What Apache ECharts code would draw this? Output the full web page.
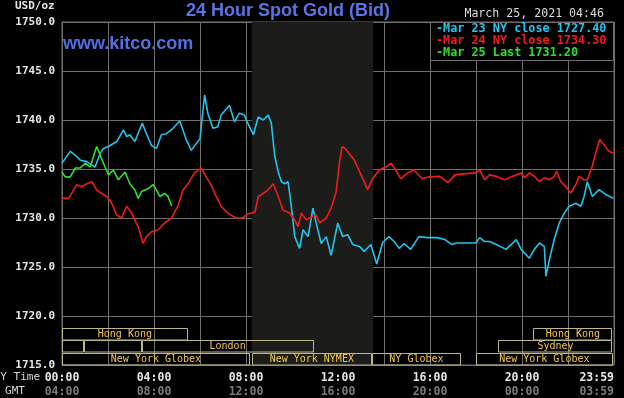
<!DOCTYPE html>
<html>
<head>
<meta charset="utf-8">
<script src="https://cdn.jsdelivr.net/npm/echarts/dist/echarts.min.js"></script>
<style>
  html, body { margin: 0; padding: 0; background: #000; }
  #main { width: 624px; height: 398px; }
</style>
</head>
<body>
<div id="main"></div>
<script>
// hours after NY midnight, bid price
var mar23Hours = [0, 0.36, 0.58, 0.8, 1.08, 1.3, 1.44, 1.66, 1.8, 2.02, 2.38, 2.67, 2.81, 2.95, 3.17, 3.49, 3.67, 3.89, 4.11, 4.32, 4.54, 4.83, 5.12, 5.4, 5.62, 5.84, 6.0, 6.2, 6.34, 6.56, 6.77, 6.92, 7.28, 7.5, 7.71, 7.93, 8.07, 8.32, 8.53, 8.75, 8.97, 9.1, 9.25, 9.4, 9.54, 9.69, 9.83, 9.97, 10.12, 10.33, 10.48, 10.7, 10.91, 11.05, 11.27, 11.49, 11.7, 11.99, 12.2, 12.42, 12.64, 12.93, 13.14, 13.43, 13.68, 13.94, 14.22, 14.44, 14.66, 14.87, 15.16, 15.52, 15.88, 16.29, 16.65, 16.94, 17.15, 17.99, 18.16, 18.38, 18.59, 18.88, 19.31, 19.75, 19.96, 20.32, 20.54, 20.76, 20.97, 21.04, 21.19, 21.4, 21.62, 21.84, 22.05, 22.34, 22.56, 22.7, 22.84, 23.06, 23.35, 23.64, 23.98];
var mar23Values = [1735.6, 1736.8, 1736.4, 1735.9, 1735.75, 1735.4, 1735.2, 1736.6, 1737.1, 1737.3, 1737.8, 1739.0, 1738.3, 1738.5, 1737.8, 1739.7, 1738.6, 1737.4, 1737.1, 1738.5, 1738.6, 1739.15, 1739.9, 1738.0, 1736.9, 1737.6, 1738.1, 1742.55, 1740.7, 1739.15, 1739.3, 1740.5, 1741.5, 1739.8, 1740.7, 1740.5, 1739.7, 1738.5, 1740.3, 1740.0, 1740.5, 1739.7, 1736.3, 1734.7, 1733.7, 1733.5, 1733.7, 1731.2, 1728.1, 1726.9, 1728.8, 1728.1, 1731.0, 1729.5, 1727.4, 1728.1, 1726.2, 1729.5, 1728.1, 1728.3, 1727.3, 1727.1, 1726.6, 1727.3, 1725.3, 1727.5, 1728.1, 1727.6, 1726.9, 1727.4, 1726.8, 1728.1, 1728.0, 1728.0, 1727.8, 1727.3, 1727.45, 1727.45, 1728.0, 1727.6, 1727.6, 1727.3, 1726.8, 1727.8, 1726.8, 1725.9, 1726.8, 1727.45, 1727.1, 1724.05, 1725.75, 1727.8, 1729.5, 1730.5, 1731.2, 1731.5, 1731.2, 1732.2, 1733.7, 1732.2, 1732.9, 1732.4, 1732.0];

var mar24Hours = [0, 0.29, 0.5, 0.65, 0.86, 1.08, 1.3, 1.51, 1.73, 1.95, 2.16, 2.38, 2.59, 2.81, 3.03, 3.31, 3.53, 3.67, 3.89, 4.18, 4.47, 4.76, 5.04, 5.26, 5.48, 5.76, 6.05, 6.27, 6.48, 6.7, 6.92, 7.2, 7.56, 7.85, 8.07, 8.39, 8.53, 8.75, 8.97, 9.18, 9.4, 9.61, 9.9, 10.12, 10.26, 10.41, 10.62, 10.84, 11.05, 11.2, 11.49, 11.7, 11.92, 12.06, 12.18, 12.35, 12.71, 13.0, 13.29, 13.5, 13.79, 14.08, 14.3, 14.51, 14.73, 15.02, 15.3, 15.67, 15.95, 16.43, 16.79, 17.08, 17.44, 17.99, 18.16, 18.38, 18.59, 18.88, 19.24, 19.6, 19.96, 20.11, 20.32, 20.54, 20.76, 20.97, 21.19, 21.4, 21.5, 21.69, 21.9, 22.12, 22.34, 22.48, 22.7, 22.84, 23.06, 23.2, 23.38, 23.56, 23.78, 23.98];
var mar24Values = [1732.0, 1732.0, 1732.85, 1733.4, 1733.2, 1733.5, 1733.7, 1732.85, 1732.5, 1732.2, 1731.5, 1730.3, 1730.0, 1731.2, 1730.5, 1729.1, 1727.4, 1728.1, 1728.6, 1728.8, 1729.5, 1730.0, 1731.2, 1732.85, 1733.5, 1734.6, 1735.1, 1734.2, 1733.4, 1732.2, 1731.2, 1730.5, 1730.0, 1730.0, 1730.4, 1730.6, 1732.2, 1732.5, 1732.9, 1733.5, 1732.2, 1730.8, 1730.5, 1729.8, 1729.1, 1730.5, 1729.8, 1730.1, 1730.3, 1729.5, 1730.0, 1731.0, 1732.7, 1735.6, 1737.3, 1737.0, 1735.9, 1734.4, 1732.9, 1734.0, 1734.9, 1735.2, 1735.6, 1734.9, 1734.0, 1734.6, 1734.9, 1734.0, 1734.2, 1734.25, 1733.6, 1734.4, 1734.5, 1734.6, 1734.9, 1733.9, 1734.4, 1734.25, 1733.9, 1734.25, 1734.6, 1734.1, 1734.6, 1734.25, 1733.7, 1734.1, 1733.9, 1734.25, 1734.8, 1733.7, 1733.2, 1732.55, 1733.4, 1734.25, 1733.9, 1733.9, 1735.3, 1736.6, 1738.0, 1737.5, 1736.8, 1736.6];

var mar25Hours = [0, 0.14, 0.36, 0.58, 0.79, 1.01, 1.23, 1.37, 1.51, 1.66, 1.87, 2.02, 2.23, 2.45, 2.74, 2.95, 3.17, 3.31, 3.46, 3.75, 3.96, 4.11, 4.25, 4.47, 4.61, 4.77];
var mar25Values = [1734.7, 1734.2, 1734.2, 1735.1, 1735.1, 1735.6, 1735.2, 1736.3, 1737.3, 1736.4, 1735.2, 1734.4, 1734.9, 1733.9, 1734.7, 1733.5, 1732.85, 1732.0, 1732.7, 1733.0, 1733.4, 1732.85, 1732.2, 1732.5, 1732.2, 1731.2];

var legendLabels = ['-Mar 23 NY close 1727.40', '-Mar 24 NY close 1734.30', '-Mar 25 Last 1731.20'];
var lineColors = ['#22c4ec', '#f01c1c', '#2ee02e'];

var labelHours = [0, 4, 8, 12, 16, 20, 24];
var nyLabels = ['00:00', '04:00', '08:00', '12:00', '16:00', '20:00', '23:59'];
var gmtLabels = ['04:00', '08:00', '12:00', '16:00', '20:00', '00:00', '03:59'];

// trading sessions: start hour, end hour, row (0 = bottom)
var sessionNames = ['Hong Kong', '', '', 'London', 'New York Globex', 'New York NYMEX', 'NY Globex', 'New York Globex', 'Sydney', 'Hong Kong'];
var sessionStart = [0, 0, 0.94, 3.47, 0, 8.25, 13.47, 18.0, 18.97, 20.49];
var sessionEnd = [5.47, 0.94, 3.47, 10.93, 8.17, 13.47, 17.35, 23.94, 23.94, 23.94];
var sessionRow = [2, 1, 1, 1, 0, 0, 0, 0, 1, 2];

var nymexOpen = 8.25;
var nymexClose = 13.53;

function pairs(xs, ys) {
  return xs.map(function (x, i) { return [x, ys[i]]; });
}

var mono = '"DejaVu Sans Mono", monospace';
var chart = echarts.init(document.getElementById('main'), null, { renderer: 'canvas' });

function renderSession(params, api) {
  var x0 = api.coord([api.value(0), 1715])[0];
  var x1 = api.coord([api.value(1), 1715])[0];
  var base = params.coordSys.y + params.coordSys.height;
  var h = 12.5;
  var top = base - (api.value(2) + 1) * h;
  return {
    type: 'group',
    children: [
      {
        type: 'rect',
        shape: { x: Math.round(x0) + 0.5, y: Math.round(top) + 0.5, width: Math.round(x1 - x0) - 1, height: h - 1 },
        style: { fill: null, stroke: '#bdb68a', lineWidth: 1 }
      },
      {
        type: 'text',
        style: {
          text: sessionNames[params.dataIndex],
          x: (x0 + x1) / 2, y: top + h / 2 + 0.5,
          align: 'center', verticalAlign: 'middle',
          fill: '#f2c84a', font: '10px ' + mono
        }
      }
    ]
  };
}

var option = {
  backgroundColor: '#000',
  animation: false,
  grid: { left: 62, top: 22, width: 552, height: 343, show: true, borderColor: '#6e6e6e', borderWidth: 1 },
  xAxis: {
    type: 'value', min: 0, max: 24, interval: 2,
    axisLine: { show: false }, axisTick: { show: false },
    splitLine: { show: true, lineStyle: { color: '#6e6e6e', width: 1 } },
    axisLabel: {
      margin: 6,
      alignMaxLabel: 'right',
      formatter: function (v) {
        var i = labelHours.indexOf(v);
        if (i < 0) return '';
        return '{ny|' + nyLabels[i] + '}\n{gmt|' + gmtLabels[i] + '}';
      },
      rich: {
        ny: { color: '#e6e6e6', fontFamily: mono, fontWeight: 'bold', fontSize: 11.5, lineHeight: 14 },
        gmt: { color: '#7c7c7c', fontFamily: mono, fontWeight: 'bold', fontSize: 11.5, lineHeight: 14 }
      }
    }
  },
  yAxis: {
    type: 'value', min: 1715, max: 1750, interval: 5,
    axisLine: { show: false }, axisTick: { show: false },
    splitLine: { show: true, lineStyle: { color: '#6e6e6e', width: 1 } },
    axisLabel: {
      margin: 7, color: '#e6e6e6', fontFamily: mono, fontWeight: 'bold', fontSize: 11,
      formatter: function (v) { return v.toFixed(1); }
    }
  },
  graphic: [
    { type: 'text', left: 15, top: 1, style: { text: 'USD/oz', fill: '#e6e6e6', font: 'bold 11px ' + mono } },
    { type: 'text', x: 288, y: 11, style: { text: '24 Hour Spot Gold (Bid)', fill: '#5a74e2', font: 'bold 18px "Liberation Sans", Arial', align: 'center', verticalAlign: 'middle' } },
    { type: 'text', x: 63, y: 44, style: { text: 'www.kitco.com', fill: '#5070e4', font: 'bold 18px "Liberation Sans", Arial', verticalAlign: 'middle' } },
    { type: 'text', x: 604, y: 14, style: { text: 'March 25, 2021 04:46', fill: '#dcdcdc', font: '11.6px ' + mono, align: 'right', verticalAlign: 'middle' } },
    { type: 'rect', z: 10, shape: { x: 430.5, y: 22.5, width: 183, height: 38 }, style: { fill: '#000', stroke: '#6e6e6e', lineWidth: 1 } },
    { type: 'text', z: 11, x: 436, y: 28.5, style: { text: legendLabels[0], fill: lineColors[0], font: 'bold 11.8px ' + mono, verticalAlign: 'middle' } },
    { type: 'text', z: 11, x: 436, y: 40.5, style: { text: legendLabels[1], fill: lineColors[1], font: 'bold 11.8px ' + mono, verticalAlign: 'middle' } },
    { type: 'text', z: 11, x: 436, y: 53, style: { text: legendLabels[2], fill: lineColors[2], font: 'bold 11.8px ' + mono, verticalAlign: 'middle' } },
    { type: 'text', x: 40, y: 377, style: { text: 'NY Time', fill: '#d8d8d8', font: '11px ' + mono, align: 'right', verticalAlign: 'middle' } },
    { type: 'text', x: 15, y: 391, style: { text: 'GMT', fill: '#d8d8d8', font: '11px ' + mono, align: 'center', verticalAlign: 'middle' } }
  ],
  series: [
    {
      type: 'line', data: pairs(mar23Hours, mar23Values), showSymbol: false,
      lineStyle: { color: lineColors[0], width: 1.6 }, z: 4,
      markArea: {
        silent: true,
        itemStyle: { color: '#1c1c1a' },
        data: [[{ xAxis: nymexOpen }, { xAxis: nymexClose }]]
      }
    },
    { type: 'line', data: pairs(mar24Hours, mar24Values), showSymbol: false, lineStyle: { color: lineColors[1], width: 1.6 }, z: 4 },
    { type: 'line', data: pairs(mar25Hours, mar25Values), showSymbol: false, lineStyle: { color: lineColors[2], width: 1.6 }, z: 5 },
    {
      type: 'custom', renderItem: renderSession, silent: true, z: 3,
      encode: { x: [0, 1], y: 2 },
      data: sessionStart.map(function (s, i) { return [s, sessionEnd[i], sessionRow[i]]; })
    }
  ]
};

chart.setOption(option);
</script>
</body>
</html>
